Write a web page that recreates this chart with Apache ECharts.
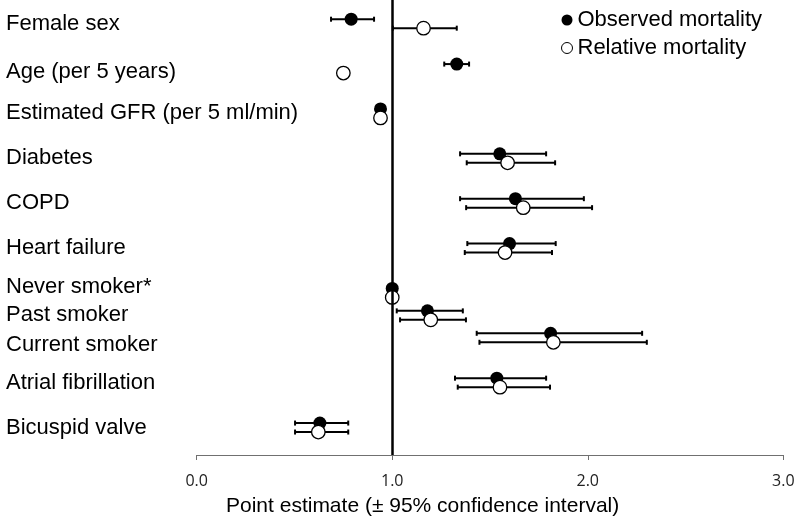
<!DOCTYPE html>
<html>
<head>
<meta charset="utf-8">
<script src="https://cdn.jsdelivr.net/npm/echarts@6/dist/echarts.min.js"></script>
<style>
html,body{margin:0;padding:0;background:#fff;}
#chart{width:800px;height:522px;}
</style>
</head>
<body>
<div id="chart"></div>
<script>
// ---- data ----
var categories = ['Female sex','Age (per 5 years)','Estimated GFR (per 5 ml/min)','Diabetes','COPD','Heart failure','Never smoker*','Past smoker','Current smoker','Atrial fibrillation','Bicuspid valve'];
var rowPos = [0,1,2,3,4,5,6,6.5,7,8,9];
var observed    = [0.79, 1.33, 0.94, 1.55, 1.63, 1.60, 1.00, 1.18, 1.81, 1.535, 0.63];
var observedLo  = [0.687, 1.266, null, 1.347, 1.347, 1.384, null, 1.023, 1.432, 1.321, 0.503];
var observedHi  = [0.907, 1.393, null, 1.787, 1.980, 1.836, null, 1.361, 2.278, 1.787, 0.775];
var relative    = [1.16, 0.75, 0.94, 1.59, 1.67, 1.577, 1.00, 1.197, 1.824, 1.551, 0.622];
var relativeLo  = [1.003, null, null, 1.381, 1.378, 1.371, null, 1.040, 1.446, 1.335, 0.503];
var relativeHi  = [1.330, null, null, 1.833, 2.022, 1.817, null, 1.377, 2.302, 1.807, 0.775];
var xTicks = [0, 1, 2, 3];

// ---- style ----
var OFF = 0.1;
var FONT = "'Liberation Sans', Arial, sans-serif";
// small vertical nudges of the row labels (text style only)
var labelRich = {
  n:{fontFamily:FONT, fontSize:22, color:'#000'},
  up:{fontFamily:FONT, fontSize:22, color:'#000', padding:[0,0,12,0]},
  dn:{fontFamily:FONT, fontSize:22, color:'#000', padding:[14,0,0,0]},
  dn2:{fontFamily:FONT, fontSize:22, color:'#000', padding:[6,0,0,0]}
};
var labelNudge = {'Never smoker*':'up', 'Current smoker':'dn', 'Age (per 5 years)':'dn2'};

function pts(vals, off){
  return vals.map(function(v,i){ return [v, rowPos[i] + off]; });
}
function bars(lo, hi, off){
  var out = [];
  lo.forEach(function(l,i){ if(l!=null && hi[i]!=null) out.push([l, hi[i], rowPos[i] + off]); });
  return out;
}
function renderBar(params, api){
  var a = api.coord([api.value(0), api.value(2)]);
  var b = api.coord([api.value(1), api.value(2)]);
  var st = {stroke:'#000', lineWidth:2};
  return {type:'group', children:[
    {type:'line', shape:{x1:a[0],y1:a[1],x2:b[0],y2:b[1]}, style:st},
    {type:'line', shape:{x1:a[0],y1:a[1]-2.5,x2:a[0],y2:a[1]+2.5}, style:st},
    {type:'line', shape:{x1:b[0],y1:b[1]-2.5,x2:b[0],y2:b[1]+2.5}, style:st}
  ]};
}

var chart = echarts.init(document.getElementById('chart'), null, {renderer:'canvas'});
chart.setOption({
  animation:false,
  backgroundColor:'#fff',
  textStyle:{fontFamily:FONT},
  title:{
    text:'Point estimate (± 95% confidence interval)',
    left:226, top:496, padding:0,
    textStyle:{fontFamily:FONT, fontSize:21, fontWeight:'normal', color:'#000'}
  },
  legend:{
    orient:'vertical', left:556, top:4,
    itemWidth:11, itemHeight:11, itemGap:6,
    data:[
      {name:'Observed mortality', itemStyle:{color:'#000', borderWidth:0}},
      {name:'Relative mortality', itemStyle:{color:'#fff', borderColor:'#000', borderWidth:1}}
    ],
    textStyle:{fontFamily:FONT, fontSize:22, color:'#000'}
  },
  grid:{left:196.7, right:16.7, top:0, bottom:67, containLabel:false},
  xAxis:{
    type:'value', min:0, max:3, interval:1, position:'bottom',
    axisLine:{show:true, onZero:false, lineStyle:{color:'#707070', width:1}},
    axisTick:{show:true, length:5, lineStyle:{color:'#707070', width:1}},
    splitLine:{show:false},
    axisLabel:{
      customValues: xTicks,
      margin:18, fontFamily:"'Open Sans', sans-serif", fontSize:16, color:'#222',
      formatter:function(v){ return v.toFixed(1); }
    }
  },
  yAxis:{
    type:'value', inverse:true, min:-0.528, max:9.612,
    axisLine:{show:false}, axisTick:{show:false}, splitLine:{show:false},
    axisLabel:{
      customValues: rowPos,
      align:'left', margin:190.7,
      fontFamily:FONT, fontSize:22, color:'#000',
      rich:labelRich,
      formatter:function(v){
        var i = rowPos.indexOf(v);
        if(i<0) return '';
        var c = categories[i];
        return '{' + (labelNudge[c] || 'n') + '|' + c + '}';
      }
    }
  },
  series:[
    {
      name:'obsCI', type:'custom', renderItem:renderBar, z:1,
      data:bars(observedLo, observedHi, -OFF),
      encode:{x:[0,1], y:2},
      markLine:{
        silent:true, symbol:['none','none'],
        label:{show:false},
        lineStyle:{color:'#000', width:2.5, type:'solid'},
        data:[{xAxis:1}]
      }
    },
    {
      name:'relCI', type:'custom', renderItem:renderBar, z:1,
      data:bars(relativeLo, relativeHi, OFF),
      encode:{x:[0,1], y:2}
    },
    {
      name:'Observed mortality', type:'scatter', z:3,
      symbol:'circle', symbolSize:13,
      itemStyle:{color:'#000', opacity:1},
      data:pts(observed, -OFF)
    },
    {
      name:'Relative mortality', type:'scatter', z:4,
      symbol:'circle', symbolSize:13.5,
      itemStyle:{color:'#fff', borderColor:'#000', borderWidth:1.3, opacity:1},
      data:pts(relative, OFF)
    }
  ]
});
</script>
</body>
</html>
